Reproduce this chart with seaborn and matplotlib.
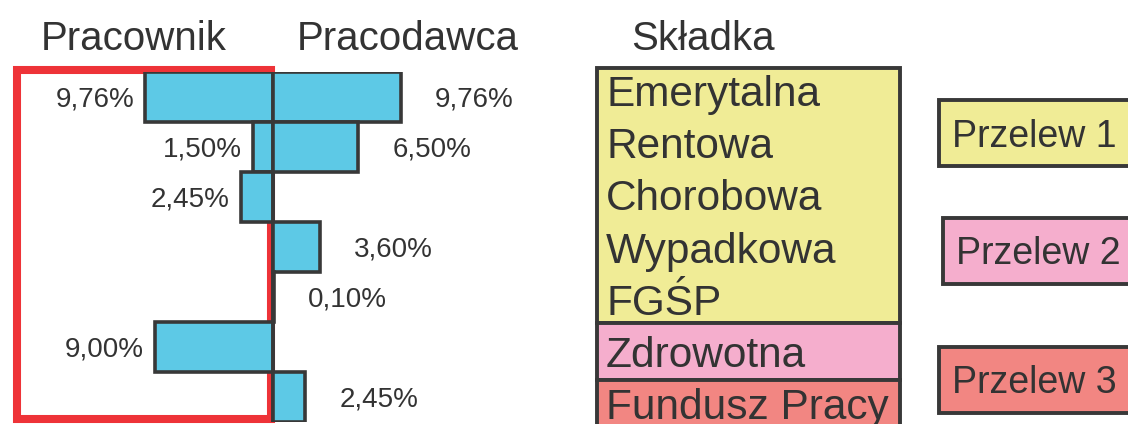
import matplotlib
matplotlib.use("Agg")
import matplotlib.pyplot as plt
from matplotlib.patches import Rectangle
import seaborn as sns
import pandas as pd

# -----------------------------
# Data
# -----------------------------
categories = ["Emerytalna", "Rentowa", "Chorobowa", "Wypadkowa", "FGŚP", "Zdrowotna", "Fundusz Pracy"]
employee = [9.76, 1.50, 2.45, 0, 0, 9.00, 0]      # Pracownik
employer = [9.76, 6.50, 0, 3.60, 0.10, 0, 2.45]   # Pracodawca
transfers = ["Przelew 1", "Przelew 2", "Przelew 3"]
transfer_rows = [[0, 1, 2, 3, 4], [5], [6]]        # which contributions go in which transfer

df = pd.DataFrame({"Skladka": categories, "Pracownik": employee, "Pracodawca": employer})

# -----------------------------
# Style
# -----------------------------
plt.rcParams["font.family"] = ["Liberation Sans", "DejaVu Sans"]
TXT = "#333333"
EDGE = "#383838"
BLUE = "#5DC9E6"
RED = "#EE3338"
box_colors = ["#F0EC96", "#F5AECD", "#F28682"]

W, H = 1128, 424
fig = plt.figure(figsize=(W / 100, H / 100), dpi=100)

# -----------------------------
# Butterfly bars (employee left, employer right)
# -----------------------------
px_per_pct = 13.1
center = 273
ax = fig.add_axes([0, 2 / H, 580 / W, 350 / H])
sns.barplot(x=-df["Pracownik"], y=df["Skladka"], orient="h", color=BLUE, saturation=1,
            width=1, edgecolor=EDGE, linewidth=2.6, errorbar=None, ax=ax, zorder=2)
sns.barplot(x=df["Pracodawca"], y=df["Skladka"], orient="h", color=BLUE, saturation=1,
            width=1, edgecolor=EDGE, linewidth=2.6, errorbar=None, ax=ax, zorder=2)
ax.set_xlim(-center / px_per_pct, (580 - center) / px_per_pct)
ax.set_ylim(6.5, -0.5)
ax.axis("off")

# red frame round the employee side
ax.add_patch(Rectangle((-(center - 17) / px_per_pct, -0.54), (center - 17 - 2) / px_per_pct, 6.98,
                       fill=False, edgecolor=RED, linewidth=5.8, clip_on=False, zorder=1))

for i, (e, r) in enumerate(zip(employee, employer)):
    if e > 0:
        ax.text(-e - 0.85, i + 0.06, f"{e:.2f}".replace(".", ",") + "%", ha="right", va="center",
                fontsize=20, color=TXT)
    if r > 0:
        ax.text(r + 2.6, i + 0.06, f"{r:.2f}".replace(".", ",") + "%", ha="left", va="center",
                fontsize=20, color=TXT)

# -----------------------------
# Contribution boxes and transfers (pixel layout)
# -----------------------------
ax2 = fig.add_axes([0, 0, 1, 1])
ax2.set_xlim(0, W)
ax2.set_ylim(H, 0)
ax2.axis("off")

for x, label in zip([134, 408, 703], ["Pracownik", "Pracodawca", "Składka"]):
    ax2.text(x, 50, label, ha="center", va="baseline", fontsize=29, color=TXT)

box_edges = [68, 323, 380, 430]
for k, color in enumerate(box_colors):
    ax2.add_patch(Rectangle((597, box_edges[k]), 303, box_edges[k + 1] - box_edges[k],
                            facecolor=color, edgecolor=EDGE, linewidth=2.8, clip_on=False))

for i, name in enumerate(categories):
    ax2.text(606, 106 + 52.2 * i, name, ha="left", va="baseline", fontsize=30.5, color=TXT)

tr_left = [939, 943, 939]
tr_top = [100, 218, 347]
tr_base = [147, 264, 393]
for k, name in enumerate(transfers):
    ax2.add_patch(Rectangle((tr_left[k], tr_top[k]), 200, 66, facecolor=box_colors[k],
                            edgecolor=EDGE, linewidth=2.8, clip_on=False))
    ax2.text(tr_left[k] + 13, tr_base[k], name, ha="left", va="baseline", fontsize=27, color=TXT)

plt.savefig("out.png", dpi=100)
